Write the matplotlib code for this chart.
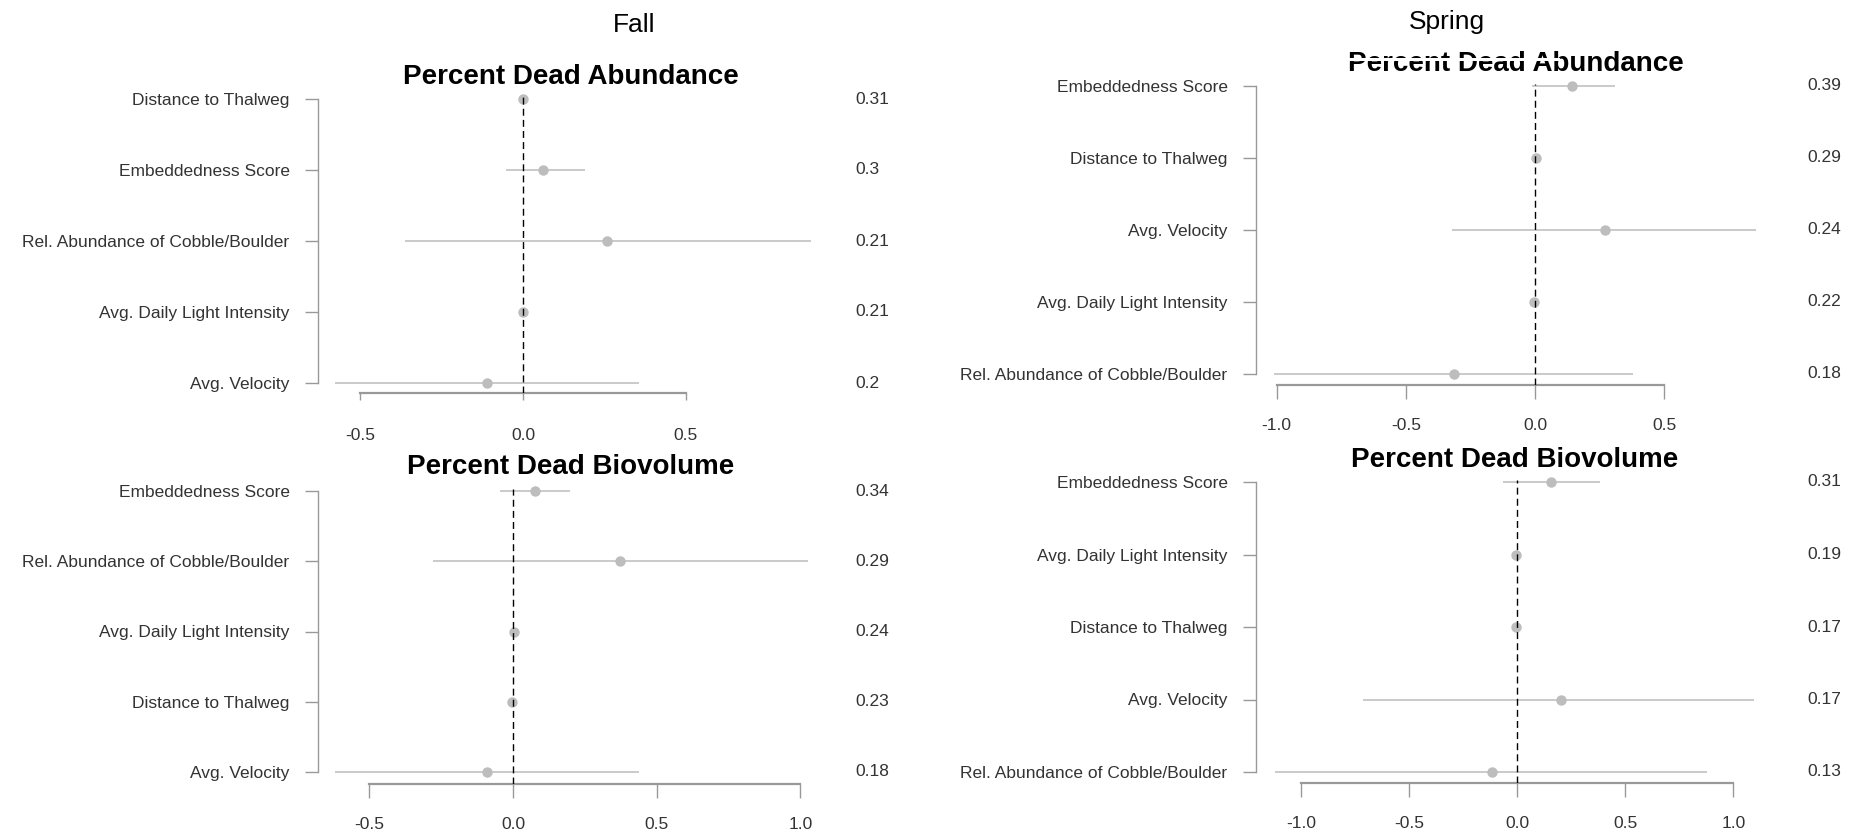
import matplotlib
matplotlib.use("Agg")
import matplotlib.pyplot as plt
import matplotlib.transforms as mtransforms
from matplotlib.patches import Rectangle

W, H = 1856, 840

# ---- data ----
fall_abund_labels = ["Distance to Thalweg", "Embeddedness Score", "Rel. Abundance of Cobble/Boulder",
                     "Avg. Daily Light Intensity", "Avg. Velocity"]
fall_abund_est = [0.0, 0.062, 0.259, 0.0, -0.11]
fall_abund_lo = [-0.004, -0.051, -0.361, -0.004, -0.577]
fall_abund_hi = [0.004, 0.189, 0.883, 0.004, 0.355]
fall_abund_imp = ["0.31", "0.3", "0.21", "0.21", "0.2"]

fall_bio_labels = ["Embeddedness Score", "Rel. Abundance of Cobble/Boulder", "Avg. Daily Light Intensity",
                   "Distance to Thalweg", "Avg. Velocity"]
fall_bio_est = [0.078, 0.372, 0.002, -0.002, -0.09]
fall_bio_lo = [-0.045, -0.278, -0.002, -0.006, -0.62]
fall_bio_hi = [0.2, 1.027, 0.006, 0.002, 0.438]
fall_bio_imp = ["0.34", "0.29", "0.24", "0.23", "0.18"]

spring_abund_labels = ["Embeddedness Score", "Distance to Thalweg", "Avg. Velocity",
                       "Avg. Daily Light Intensity", "Rel. Abundance of Cobble/Boulder"]
spring_abund_est = [0.142, 0.003, 0.272, -0.002, -0.312]
spring_abund_lo = [-0.013, -0.001, -0.323, -0.006, -1.01]
spring_abund_hi = [0.31, 0.007, 0.855, 0.002, 0.38]
spring_abund_imp = ["0.39", "0.29", "0.24", "0.22", "0.18"]

spring_bio_labels = ["Embeddedness Score", "Avg. Daily Light Intensity", "Distance to Thalweg",
                     "Avg. Velocity", "Rel. Abundance of Cobble/Boulder"]
spring_bio_est = [0.153, -0.005, -0.005, 0.2, -0.119]
spring_bio_lo = [-0.068, -0.009, -0.009, -0.716, -1.123]
spring_bio_hi = [0.383, -0.001, -0.001, 1.096, 0.877]
spring_bio_imp = ["0.31", "0.19", "0.17", "0.17", "0.13"]

FONT = ["Liberation Sans", "DejaVu Sans"]
plt.rcParams["font.family"] = FONT

fig = plt.figure(figsize=(W / 100, H / 100), dpi=100)
fig.patch.set_facecolor("white")


def fx(x):
    return x / W


def fy(y):
    return 1 - y / H


def draw_panel(labels, est, lo, hi, imp, ticks, title, lay):
    spine_x, zero_x, unit = lay["spine"], lay["zero"], lay["unit"]
    row_top, step, axis_y = lay["row_top"], lay["step"], lay["axis_y"]
    right_x = lay["right"]
    n = len(labels)
    gap = (axis_y - (row_top + (n - 1) * step)) / step
    top_pad = 0.03
    ax_top = row_top - top_pad * step

    ax = fig.add_axes([fx(spine_x), fy(axis_y), (right_x - spine_x) / W, (axis_y - ax_top) / H])
    ax.set_xlim((spine_x - zero_x) / unit, (right_x - zero_x) / unit)
    ax.set_ylim(-gap, n - 1 + top_pad)
    ax.patch.set_alpha(0)

    ypos = list(range(n - 1, -1, -1))
    ax.hlines(ypos, lo, hi, color="#c6c6c6", lw=1.3, zorder=2, clip_on=False)
    ax.plot(est, ypos, "o", color="#bdbdbd", ms=7.5, mec="none", zorder=3, clip_on=False)
    ax.axvline(0, color="black", lw=1.0, ls=(0, (5, 3)), zorder=4)

    for s in ["top", "right"]:
        ax.spines[s].set_visible(False)
    ax.spines["left"].set_bounds(0, n - 1)
    ax.spines["bottom"].set_bounds(ticks[0], ticks[-1])
    ax.spines["left"].set_color("#999999")
    ax.spines["bottom"].set_color("#999999")
    ax.spines["left"].set_linewidth(1.0)
    ax.spines["bottom"].set_linewidth(1.6)

    ax.set_yticks(ypos, labels)
    ax.set_xticks(ticks, [f"{t:.1f}" for t in ticks])
    ax.tick_params(axis="y", direction="out", length=9.5, width=1, color="#999999",
                   pad=11, labelsize=12.5, labelcolor="#333333")
    ax.tick_params(axis="x", direction="out", length=lay["xtick_len"], width=1, color="#999999",
                   pad=lay["xpad"], labelsize=12.5, labelcolor="#333333")

    trans = mtransforms.blended_transform_factory(fig.transFigure, ax.transData)
    for y, s in zip(ypos, imp):
        ax.text(fx(lay["val_x"]), y, s, transform=trans, ha="left", va="center",
                fontsize=12.5, color="#333333")

    fig.text(fx(lay["title_x"]), fy(lay["title_y"]), title, ha="center", va="center",
             fontsize=20, fontweight="bold", color="black")
    return ax


draw_panel(fall_abund_labels, fall_abund_est, fall_abund_lo, fall_abund_hi, fall_abund_imp,
           [-0.5, 0.0, 0.5], "Percent Dead Abundance",
           dict(spine=318, zero=523, unit=326, row_top=99, step=71, axis_y=393, right=830,
                xtick_len=5, xpad=20, val_x=855, title_x=571, title_y=77))

draw_panel(fall_bio_labels, fall_bio_est, fall_bio_lo, fall_bio_hi, fall_bio_imp,
           [-0.5, 0.0, 0.5, 1.0], "Percent Dead Biovolume",
           dict(spine=318, zero=513, unit=287.3, row_top=491, step=70.25, axis_y=784, right=830,
                xtick_len=10, xpad=14, val_x=855, title_x=571, title_y=467))

draw_panel(spring_abund_labels, spring_abund_est, spring_abund_lo, spring_abund_hi, spring_abund_imp,
           [-1.0, -0.5, 0.0, 0.5], "Percent Dead Abundance",
           dict(spine=1256, zero=1535, unit=258.3, row_top=86, step=72, axis_y=385, right=1780,
                xtick_len=10, xpad=14, val_x=1807, title_x=1516, title_y=64))

draw_panel(spring_bio_labels, spring_bio_est, spring_bio_lo, spring_bio_hi, spring_bio_imp,
           [-1.0, -0.5, 0.0, 0.5, 1.0], "Percent Dead Biovolume",
           dict(spine=1256, zero=1517.5, unit=216, row_top=482, step=72.5, axis_y=783, right=1780,
                xtick_len=10, xpad=14, val_x=1807, title_x=1515, title_y=460))

# season headings
fig.text(fx(634), fy(25), "Fall", ha="center", va="center", fontsize=19, color="black")
fig.text(fx(1447), fy(22), "Spring", ha="center", va="center", fontsize=19, color="black")

# a thin white streak runs through the top of the spring abundance title in the source image
fig.add_artist(Rectangle((fx(1335), fy(60.5)), (1560 - 1335) / W, 3.0 / H,
                         transform=fig.transFigure, facecolor="white", edgecolor="none", zorder=10))

fig.savefig("out.png", dpi=100, facecolor="white")
